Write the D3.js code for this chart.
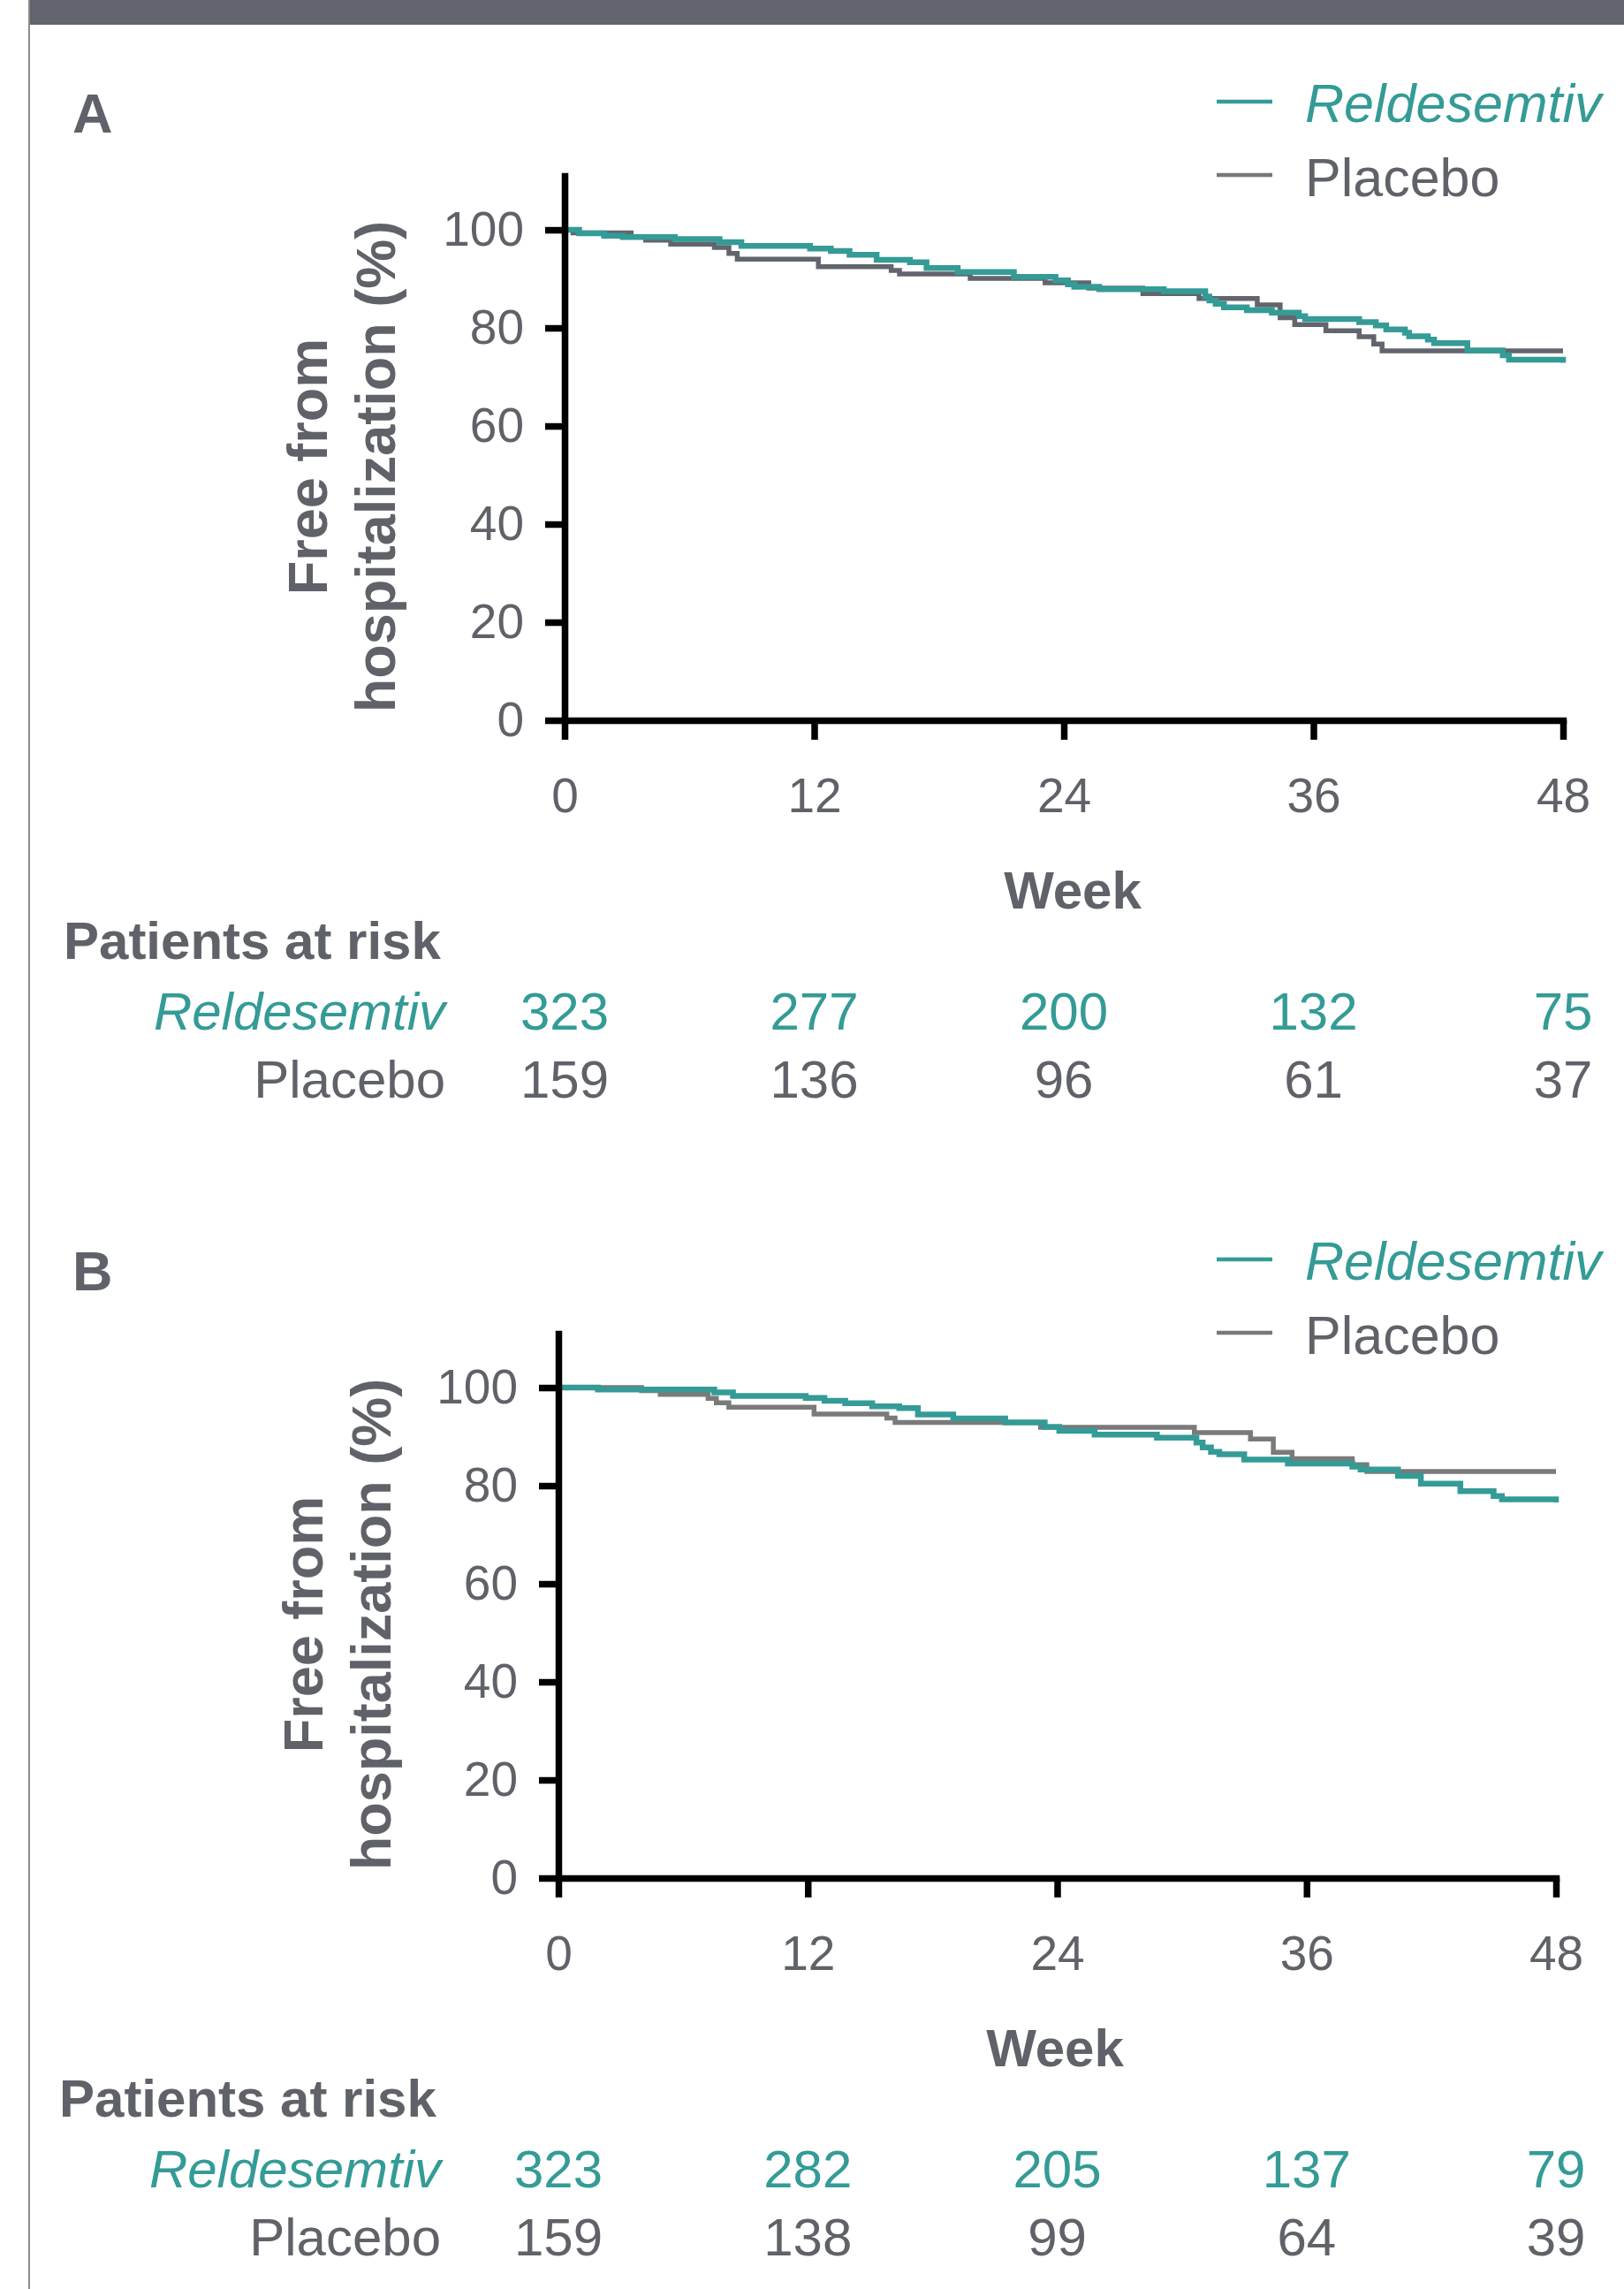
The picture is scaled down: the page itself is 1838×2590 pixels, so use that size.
<!DOCTYPE html>
<html>
<head>
<meta charset="utf-8">
<script src="https://cdn.jsdelivr.net/npm/d3@7"></script>
<style>
  body { margin: 0; background: #fff; }
  svg { display: block; font-family: "Liberation Sans", Arial, Helvetica, sans-serif; }
</style>
</head>
<body>
<div id="chart"></div>
<script>
// 1: DATA
const weekTicks = [0, 12, 24, 36, 48];
const pctTicks = [0, 20, 40, 60, 80, 100];
const seriesNames = ["Reldesemtiv", "Placebo"];

// Kaplan-Meier steps [week, % free]
const relA = [
  [0, 100], [0.7, 99.3], [1.9, 98.8], [2.8, 98.5], [5.3, 98.1], [7.45, 97.5], [8.5, 96.7],
  [11.8, 96.2], [12.8, 95.7], [13.7, 94.9], [15.0, 93.9], [16.6, 93.4], [17.4, 92.2],
  [18.9, 91.4], [21.6, 90.4], [23.6, 89.7], [24.2, 88.9], [24.5, 88.4], [25.7, 87.9],
  [28.8, 87.5], [30.8, 86.4], [31.0, 85.6], [31.3, 84.9], [31.7, 84.2], [32.8, 83.6],
  [34.0, 83.1], [35.3, 82.4], [35.6, 81.8], [38.2, 81.2], [39.0, 80.5], [39.5, 79.7],
  [40.4, 79.0], [40.6, 78.3], [41.5, 77.6], [41.8, 76.9], [43.4, 75.4], [45.1, 74.4],
  [45.4, 73.5], [48, 72.9]
];
const plaA = [
  [0, 100], [0.4, 99.4], [3.2, 98.5], [3.9, 97.9], [5.1, 97.1], [7.2, 96.4], [7.9, 95.2],
  [8.3, 94.0], [12.2, 92.5], [15.7, 91.7], [16.1, 91.0], [19.5, 90.1], [23.1, 89.2],
  [25.2, 88.1], [27.8, 87.0], [30.5, 86.0], [33.3, 84.7], [34.4, 82.1], [35.1, 80.7],
  [36.6, 79.4], [38.2, 78.2], [38.9, 76.7], [39.3, 75.3], [48, 75.3]
];
const relB = [
  [0, 100], [1.9, 99.6], [7.5, 99.0], [8.4, 98.3], [11.9, 97.9], [12.8, 97.3], [13.8, 96.8],
  [15.1, 96.2], [16.4, 95.8], [17.3, 94.5], [19.0, 93.7], [21.5, 92.9], [23.4, 92.0],
  [24.1, 91.2], [25.8, 90.4], [28.8, 89.8], [30.7, 88.8], [31.0, 87.8], [31.4, 86.9],
  [31.8, 86.4], [33.0, 85.3], [35.1, 84.5], [38.2, 83.9], [38.6, 83.3], [40.4, 82.0],
  [41.5, 80.4], [43.4, 78.9], [45.0, 77.9], [45.4, 77.2], [48, 76.6]
];
const plaB = [
  [0, 100], [4.0, 99.4], [4.9, 98.6], [7.2, 97.8], [7.6, 96.9], [8.2, 96.0], [12.3, 94.6],
  [15.8, 93.8], [16.2, 92.9], [23.2, 91.9], [30.6, 90.8], [33.3, 89.5], [34.4, 86.8],
  [35.3, 85.5], [38.2, 84.3], [38.9, 82.9], [48, 82.9]
];

// patients at risk at each week tick
const riskRelA = [323, 277, 200, 132, 75];
const riskPlaA = [159, 136, 96, 61, 37];
const riskRelB = [323, 282, 205, 137, 79];
const riskPlaB = [159, 138, 99, 64, 39];

// 2: GLOBAL SETTINGS
const width = 1838, height = 2590;
const teal = "#349b96";
const textGray = "#606269";

const svg = d3.select("#chart").append("svg")
  .attr("width", width)
  .attr("height", height);

// frame: header bar + thin left rule
svg.append("rect").attr("x", 33).attr("y", 0).attr("width", width - 33).attr("height", 28).attr("fill", "#62656d");
svg.append("line").attr("x1", 33).attr("x2", 33).attr("y1", 0).attr("y2", height)
  .attr("stroke", "#8c8c8c").attr("stroke-width", 2);

const panels = [
  { label: "A", dy: 0, x0: 639, x1: 1769, dx: 0, weekX: 1214, rel: relA, pla: plaA,
    plaColor: "#62656d", riskRel: riskRelA, riskPla: riskPlaA },
  { label: "B", dy: 1310, x0: 632, x1: 1761, dx: -5, weekX: 1194, rel: relB, pla: plaB,
    plaColor: "#7a7a7a", riskRel: riskRelB, riskPla: riskPlaB }
];

// 3: DRAW EACH PANEL
panels.forEach(p => {
  const g = svg.append("g").attr("transform", `translate(0,${p.dy})`);

  // scales (axis runs a bit above 100)
  const x = d3.scaleLinear().domain([0, 48]).range([p.x0, p.x1]);
  const y = d3.scaleLinear().domain([0, 111]).range([815, 199]);

  // panel letter
  g.append("text").attr("x", 82).attr("y", 150)
    .attr("font-size", 63).attr("font-weight", "bold").attr("fill", textGray)
    .text(p.label);

  // curves
  const line = d3.line()
    .x(d => x(d[0]))
    .y(d => y(d[1]))
    .curve(d3.curveStepAfter);

  g.append("path").datum(p.pla).attr("d", line)
    .attr("fill", "none").attr("stroke", p.plaColor).attr("stroke-width", 5.5);
  g.append("path").datum(p.rel).attr("d", line)
    .attr("fill", "none").attr("stroke", teal).attr("stroke-width", 6.5);

  // y axis
  const yAxis = g.append("g")
    .attr("transform", `translate(${p.x0},0)`)
    .call(d3.axisLeft(y).tickValues(pctTicks).tickSize(22).tickSizeOuter(0).tickPadding(24));

  // x axis
  const xAxis = g.append("g")
    .attr("transform", `translate(0,815)`)
    .call(d3.axisBottom(x).tickValues(weekTicks).tickSize(22).tickSizeOuter(0).tickPadding(43));

  [yAxis, xAxis].forEach(a => {
    a.select(".domain").attr("stroke", "#000").attr("stroke-width", 7.5).attr("stroke-linecap", "square");
    a.selectAll(".tick line").attr("stroke", "#000").attr("stroke-width", 7.5);
    a.selectAll(".tick text").attr("fill", textGray).attr("font-size", 55)
      .attr("font-family", "'Liberation Sans', Arial, sans-serif");
  });

  // axis titles
  g.append("text")
    .attr("transform", `translate(${370 + p.dx},528) rotate(-90)`)
    .attr("text-anchor", "middle").attr("font-size", 63).attr("font-weight", "bold")
    .attr("fill", textGray).text("Free from");
  g.append("text")
    .attr("transform", `translate(${447 + p.dx},528) rotate(-90)`)
    .attr("text-anchor", "middle").attr("font-size", 63).attr("font-weight", "bold")
    .attr("fill", textGray).text("hospitalization (%)");

  g.append("text").attr("x", p.weekX).attr("y", 1028)
    .attr("text-anchor", "middle").attr("font-size", 60).attr("font-weight", "bold")
    .attr("fill", textGray).text("Week");

  // legend
  const legend = g.append("g");
  [[teal, 115, 138, "italic", teal], ["#787878", 198, 222, "normal", textGray]].forEach((l, i) => {
    legend.append("line").attr("x1", 1377).attr("x2", 1440).attr("y1", l[1]).attr("y2", l[1])
      .attr("stroke", l[0]).attr("stroke-width", 4.5);
    legend.append("text").attr("x", 1477).attr("y", l[2])
      .attr("font-size", 61).attr("font-style", l[3]).attr("fill", l[4])
      .text(seriesNames[i]);
  });

  // patients at risk table
  g.append("text").attr("x", 72 + p.dx).attr("y", 1085)
    .attr("font-size", 60).attr("font-weight", "bold").attr("fill", textGray)
    .text("Patients at risk");

  const rows = [
    { name: seriesNames[0], vals: p.riskRel, color: teal, style: "italic", yb: 1165 },
    { name: seriesNames[1], vals: p.riskPla, color: textGray, style: "normal", yb: 1242 }
  ];
  rows.forEach(r => {
    g.append("text").attr("x", 504 + p.dx).attr("y", r.yb)
      .attr("text-anchor", "end").attr("font-size", 60).attr("font-style", r.style)
      .attr("fill", r.color).text(r.name);
    g.selectAll(null)
      .data(r.vals)
      .enter()
      .append("text")
      .attr("x", (d, i) => x(weekTicks[i]))
      .attr("y", r.yb)
      .attr("text-anchor", "middle")
      .attr("font-size", 60)
      .attr("fill", r.color)
      .text(d => d);
  });
});
</script>
</body>
</html>
